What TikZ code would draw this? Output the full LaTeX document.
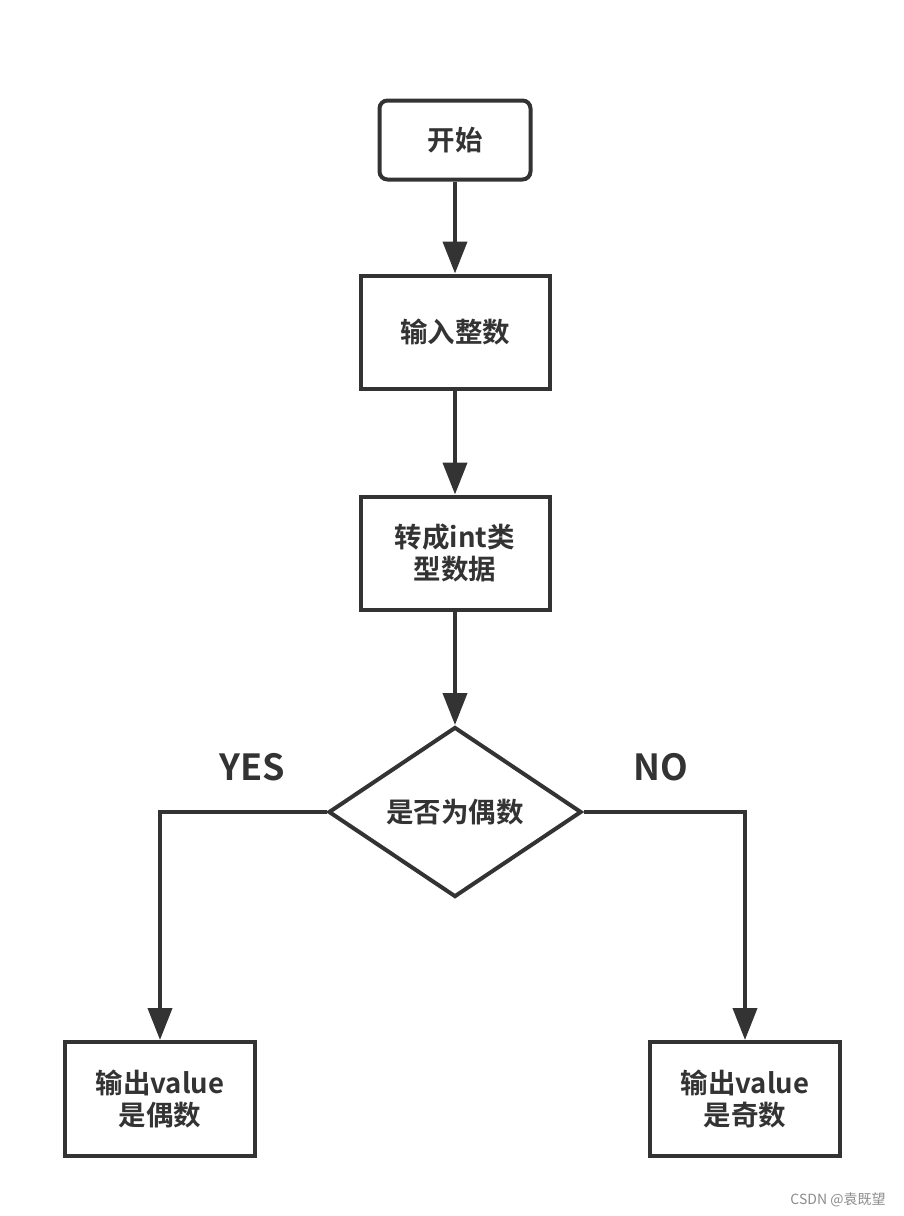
\documentclass[tikz,border=0pt]{standalone}
\usepackage{fontspec}
\setmainfont{Noto Sans CJK SC}[BoldFont={* Bold}]
\newfontfamily\cjkb{Noto Sans CJK SC Bold}
\usetikzlibrary{shapes.geometric,arrows.meta}
\definecolor{ink}{HTML}{333333}
\tikzset{
  box/.style={draw=ink, line width=4pt, fill=white, minimum width=189pt, minimum height=113pt, inner sep=0pt, align=center, font=\cjkb\fontsize{27.5}{32}\selectfont, text=ink},
  startbox/.style={box, rounded corners=8pt, minimum width=151pt, minimum height=79pt},
  decision/.style={draw=ink, line width=4pt, fill=white, diamond, minimum width=253pt, minimum height=170pt, inner sep=0pt, font=\cjkb\fontsize{27.5}{32}\selectfont, text=ink},
  conn/.style={draw=ink, line width=4pt, -{Triangle[length=32pt,width=24pt]}},
  lbl/.style={font=\cjkb\fontsize{36}{40}\selectfont, text=ink}
}
\begin{document}
\begin{tikzpicture}[x=1pt,y=-1pt]
\useasboundingbox (0,0) rectangle (903,1216);
\fill[white] (0,0) rectangle (903,1216);
\node[startbox] (start) at (455,140) {开始};
\node[box] (input) at (455,332) {输入整数};
\node[box] (conv) at (455,553) {转成int类\\型数据};
\node[decision] (dec) at (455,812) {是否为偶数};
\node[box, minimum width=190pt, minimum height=114pt] (even) at (160,1099) {输出value\\是偶数};
\node[box, minimum width=190pt, minimum height=114pt] (odd) at (745,1099) {输出value\\是奇数};
\draw[conn] (start) -- (input);
\draw[conn] (input) -- (conv);
\draw[conn] (conv) -- (dec);
\draw[conn] (dec.west) -| (even.north);
\draw[conn] (dec.east) -| (odd.north);
\node[lbl] (yes) at (252,767) {YES};
\node[lbl] (no) at (661,767) {NO};
\node[font=\fontsize{14}{16}\selectfont, text=black!45] (wm) at (838,1200) {CSDN @袁既望};
\end{tikzpicture}
\end{document}
